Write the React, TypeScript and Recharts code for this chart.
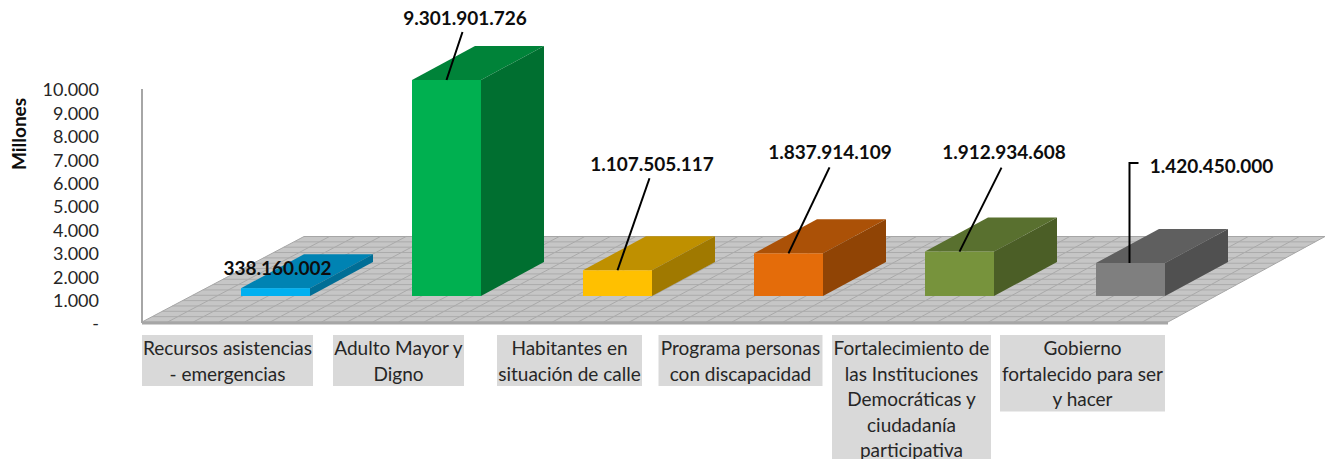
import React from 'react';
import { ComposedChart, Bar, Line, XAxis, YAxis, Customized, LabelList, Label } from 'recharts';

// ---- data ----
const categories = [
  'Recursos asistencias - emergencias',
  'Adulto Mayor y Digno',
  'Habitantes en situación de calle',
  'Programa personas con discapacidad',
  'Fortalecimiento de las Instituciones Democráticas y ciudadanía participativa',
  'Gobierno fortalecido para ser y hacer',
];
const categoryLines = [
  ['Recursos asistencias', '- emergencias'],
  ['Adulto Mayor y', 'Digno'],
  ['Habitantes en', 'situación de calle'],
  ['Programa personas', 'con discapacidad'],
  ['Fortalecimiento de', 'las Instituciones', 'Democráticas y', 'ciudadanía', 'participativa'],
  ['Gobierno', 'fortalecido para ser', 'y hacer'],
];
const values = [338160002, 9301901726, 1107505117, 1837914109, 1912934608, 1420450000];
const yTicks = [0, 1000, 2000, 3000, 4000, 5000, 6000, 7000, 8000, 9000, 10000];

// ---- styles and layout ----
const W = 1325;
const H = 459;
const X_AXIS_H = 136;
const M = { top: 89, right: 157, bottom: 0, left: 0 };
const AXIS_W = 142;
const FONT = 'Lato, Carlito, sans-serif';
const frontColors = ['#00B0F0', '#00B050', '#FFC000', '#E46C0A', '#77933C', '#7F7F7F'];
const topColors = ['#0083B3', '#008339', '#BF9000', '#AB5107', '#59702F', '#5F5F5F'];
const sideColors = ['#006E96', '#006F30', '#A07900', '#904405', '#4B5E26', '#505050'];
const boxWidths = [171, 131, 145, 164, 159, 165];
const BAR_SHIFT_X = 48;
const BAR_SHIFT_Y = -27;
const DEPTH_X = 63;
const DEPTH_Y = -34;
// label anchor relative to the front top centre of each bar, and leader path from there
const labelOffsets = [
  { dx: 2, dy: -21, leader: [] as number[][] },
  { dx: 18.5, dy: -62.5, leader: [[0, 0], [16, -48]] },
  { dx: 34.5, dy: -107, leader: [[0, 0], [32, -92]] },
  { dx: 41.5, dy: -102, leader: [[0, 0], [41, -86]] },
  { dx: 44.5, dy: -100.5, leader: [[0, 0], [42, -84]] },
  { dx: 81, dy: -98, leader: [[-1, 0], [-1, -100], [8, -100]] },
];

const dotted = (v: number) => String(Math.round(v)).replace(/\B(?=(\d{3})+(?!\d))/g, '.');

const rows = categories.map((name, i) => ({ name, raw: values[i], millions: values[i] / 1e6 }));

const Floor = () => {
  const x0 = M.left + AXIS_W;
  const x1 = W - M.right;
  const yF = H - X_AXIS_H - 1;
  const yB = 236.5;
  const dL = 162;
  const dR = 157;
  const nx = 40;
  const ny = 16;
  const lines: React.ReactNode[] = [];
  for (let i = 1; i < nx; i++) {
    const t = i / nx;
    const fx = x0 + (x1 - x0) * t;
    const bx = fx + dL + (dR - dL) * t;
    lines.push(<line key={'v' + i} x1={fx} y1={yF} x2={bx} y2={yB} stroke="#A9A9A9" strokeWidth={1} />);
  }
  for (let j = 1; j < ny; j++) {
    const t = j / ny;
    const y = yF + (yB - yF) * t;
    lines.push(
      <line key={'h' + j} x1={x0 + dL * t} y1={y} x2={x1 + dR * t} y2={y} stroke="#ABABAB" strokeWidth={1} />
    );
  }
  return (
    <g>
      <polygon
        points={`${x0},${yF} ${x1},${yF} ${x1 + dR},${yB} ${x0 + dL},${yB}`}
        fill="#C6C6C6"
        stroke="#A6A6A6"
        strokeWidth={1}
      />
      {lines}
    </g>
  );
};

const Box3D = (p: any) => {
  const i = p.index as number;
  const x = p.x + BAR_SHIFT_X;
  const y = p.y + BAR_SHIFT_Y;
  const w = p.width;
  const h = p.height;
  const r = x + w;
  const b = y + h;
  return (
    <g>
      <polygon
        points={`${x},${y} ${r},${y} ${r + DEPTH_X},${y + DEPTH_Y} ${x + DEPTH_X},${y + DEPTH_Y}`}
        fill={topColors[i]}
      />
      <polygon
        points={`${r},${y} ${r + DEPTH_X},${y + DEPTH_Y} ${r + DEPTH_X},${b + DEPTH_Y} ${r},${b}`}
        fill={sideColors[i]}
      />
      <rect x={x} y={y} width={w} height={h} fill={frontColors[i]} />
    </g>
  );
};

const DataLabel = (p: any) => {
  const i = p.index as number;
  const cx = p.x + p.width / 2 + BAR_SHIFT_X;
  const top = p.y + BAR_SHIFT_Y;
  const o = labelOffsets[i];
  const d = o.leader.map((q, k) => `${k ? 'L' : 'M'}${cx + q[0]},${top + q[1]}`).join(' ');
  return (
    <g>
      {d && <path d={d} fill="none" stroke="#000" strokeWidth={2} />}
      <text
        x={cx + o.dx}
        y={top + o.dy}
        textAnchor="middle"
        dominantBaseline="central"
        fontFamily={FONT}
        fontWeight={700}
        fontSize={19}
        fill="#0D0D0D"
      >
        {dotted(p.value)}
      </text>
    </g>
  );
};

const CategoryTick = (p: any) => {
  const i = p.index as number;
  const lines = categoryLines[i];
  const w = boxWidths[i];
  const top = 335;
  const lh = 25.5;
  return (
    <g>
      <rect x={p.x - w / 2} y={top} width={w} height={lines.length * lh} fill="#D9D9D9" />
      {lines.map((s, k) => (
        <text
          key={k}
          x={p.x}
          y={top + lh * k + 12.5}
          textAnchor="middle"
          dominantBaseline="central"
          fontFamily={FONT}
          fontSize={19}
          fill="#262626"
        >
          {s}
        </text>
      ))}
    </g>
  );
};

export default function App() {
  return (
    <div style={{ position: 'absolute', left: 0, top: 0, width: W, height: H, overflow: 'hidden', background: '#fff' }}>
      <ComposedChart width={W} height={H} data={rows} margin={M} barSize={69}>
        <Customized component={<Floor />} />
        <XAxis
          dataKey="name"
          interval={0}
          height={X_AXIS_H}
          tickLine={false}
          tickMargin={8}
          axisLine={{ stroke: '#A6A6A6', strokeWidth: 3 }}
          tick={<CategoryTick />}
        />
        <YAxis
          yAxisId="axis"
          width={AXIS_W}
          domain={[0, 10000]}
          ticks={yTicks}
          interval={0}
          tickLine={false}
          tickMargin={37}
          tickFormatter={(v: number) => (v === 0 ? '-' : dotted(v))}
          tick={{ fontFamily: FONT, fontSize: 18, fill: '#262626', dy: 1 }}
          axisLine={{ stroke: '#A6A6A6', strokeWidth: 2 }}
        >
          <Label
            content={() => (
              <text
                transform="translate(18,134) rotate(-90)"
                textAnchor="middle"
                dominantBaseline="central"
                fontFamily={FONT}
                fontWeight={700}
                fontSize={19}
                fill="#0D0D0D"
              >
                Millones
              </text>
            )}
          />
        </YAxis>
        <YAxis yAxisId="bars" hide domain={[0, 10077]} />
        <Line
          yAxisId="axis"
          dataKey="millions"
          stroke="none"
          dot={false}
          activeDot={false}
          legendType="none"
          isAnimationActive={false}
        />
        <Bar yAxisId="bars" dataKey="millions" shape={<Box3D />} isAnimationActive={false}>
          <LabelList dataKey="raw" content={<DataLabel />} />
        </Bar>
      </ComposedChart>
    </div>
  );
}
